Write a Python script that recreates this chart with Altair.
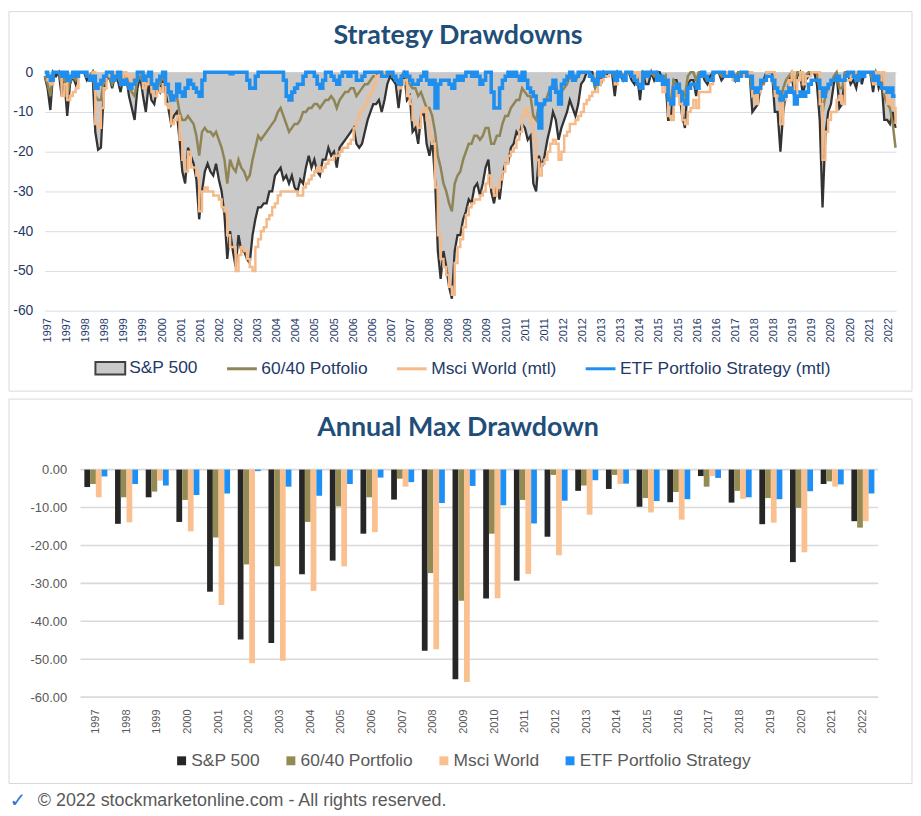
import json
import altair as alt
import pandas as pd

# ---------------- text ----------------
TITLE_TOP = "Strategy Drawdowns"
TITLE_BOTTOM = "Annual Max Drawdown"
FOOTER = "\u00a9 2022 stockmarketonline.com - All rights reserved."
ICON = "\u2713"

LINE_SERIES = ["S&P 500", "60/40 Potfolio", "Msci World (mtl)", "ETF Portfolio Strategy (mtl)"]
BAR_SERIES = ["S&P 500", "60/40 Portfolio", "Msci World", "ETF Portfolio Strategy"]

# ---------------- top chart: monthly drawdowns, Feb 1997 .. May 2022 ----------------
START_YEAR = 1997
START_MONTH = 2

SP500 = [
    -1, -4, -9.5, 0, -1, 0, -6, -2, -11, -3, -1,
    -3, 0, 0, 0, -2, -1, 0, -15, -19.5, -19, -5, -2,
    -1, -4, -1, -2, -5, -1, -1, -6, -9, -12, -4, -1,
    -6, -10, -3, -7, -8, -4, -5, -1, -5, -9, -13, -11,
    -10, -17, -25, -28, -19, -21, -23, -27, -37, -30, -25, -23,
    -25, -26, -23, -27, -30, -36, -47, -40, -45, -49, -41, -45,
    -45, -47, -48, -41, -37, -34, -34, -33, -33, -30, -30, -26,
    -25, -24, -27, -26, -28, -26, -29, -30, -27, -28, -24, -21,
    -24, -22, -25, -26, -22, -22, -19, -21, -20, -24, -19, -18,
    -17, -16, -15, -14, -18, -19, -18, -15, -12, -10, -8, -8,
    -7, -10, -7, -3, -1, -2, -3, -9, -3, 0, -7, -6,
    -15, -14, -18, -11, -10, -18, -21, -17, -27, -45, -52, -45,
    -49, -54, -57, -45, -41, -41, -37, -35, -32, -33, -29, -28,
    -31, -28, -24, -22, -30, -33, -29, -32, -26, -23, -23, -19,
    -18, -15, -16, -13, -14, -17, -16, -28, -30, -21, -24, -21,
    -17, -14, -10, -12, -17, -14, -12, -10, -7, -9, -11, -8,
    -3, -2, 0, 0, 0, -4, 0, -3, 0, -1, 0, 0,
    -6, 0, -1, -2, 0, 0, -2, -3, -1, -7, 0, -3,
    -3, 0, -2, 0, 0, -2, -1, -12, -12, -2, -2, -5,
    -11, -14, -3, -2, -2, -6, 0, 0, -2, -3, -1, 0,
    0, 0, -2, -1, 0, 0, 0, -2, 0, 0, 0, 0,
    0, -10, -9, -8, -3, -2, 0, 0, 0, -10, -10, -20,
    -10, -5, -3, 0, -7, -1, 0, -6, -2, -1, 0, 0,
    -3, -12, -34, -16, -10, -8, -3, 0, -9, -8, 0, 0,
    -3, -2, -4, 0, -3, 0, 0, 0, -5, 0, -4, -2,
    -12, -12, -13, -10, -14,
]

SIXTY_FORTY = [
    -1, -3, -6, 0, 0, 0, -3, -1, -6, -2, -1,
    -2, 0, 0, 0, -1, -1, 0, -6, -7, -7, -2, -1,
    -1, -3, -1, -1, -3, -1, -1, -3, -5, -6, -2, -1,
    -3, -4, -2, -3, -4, -3, -3, -1, -3, -5, -7, -6,
    -6, -10, -12, -12, -11, -12, -13, -16, -21, -15, -14, -15,
    -15, -16, -15, -17, -19, -22, -28, -22, -24, -25, -22, -24,
    -25, -27, -26, -22, -19, -16, -17, -16, -15, -14, -13, -12,
    -10, -9, -11, -13, -15, -14, -13, -13, -12, -10, -10, -9,
    -9, -8, -8, -9, -8, -7, -7, -6, -7, -9, -7, -6,
    -5, -5, -4, -4, -6, -5, -4, -3, -3, -2, -1, -1,
    0, -1, -1, 0, 0, -1, -1, -3, -1, 0, -2, -3,
    -4, -4, -6, -5, -7, -9, -9, -11, -15, -21, -24, -28,
    -30, -33, -35, -28, -26, -25, -22, -20, -18, -18, -16, -16,
    -17, -16, -14, -14, -18, -18, -16, -16, -13, -11, -11, -9,
    -8, -7, -7, -4, -5, -6, -6, -11, -12, -8, -9, -8,
    -6, -4, -3, -3, -6, -5, -4, -3, -1, -2, -2, -1,
    0, 0, 0, 0, -1, -4, -2, -3, -1, 0, 0, 0,
    -2, 0, 0, -1, 0, 0, -1, -1, -2, -3, 0, -1,
    -1, 0, -1, 0, -1, -2, -1, -6, -7, -2, -3, -4,
    -5, -6, -1, 0, 0, -2, 0, 0, -1, -2, -2, -1,
    0, 0, -1, 0, 0, 0, 0, -1, 0, 0, 0, 0,
    0, -6, -5, -5, -3, -3, -1, -1, -1, -5, -5, -8,
    -4, -2, -1, 0, -3, 0, 0, -2, -1, 0, 0, 0,
    0, -5, -10, -6, -4, -3, -1, 0, -4, -4, 0, 0,
    -1, -1, -1, 0, -1, 0, 0, 0, -3, 0, -2, -1,
    -6, -8, -9, -13, -19,
]

MSCI = [
    0, -2, -3, 0, 0, 0, -6, -3, -7, -6, -5,
    -4, 0, 0, 0, -1, -1, 0, -13, -14, -9, -4, -1,
    0, -2, 0, 0, -3, 0, -1, -1, -2, -1, 0, 0,
    -4, -3, -1, -5, -6, -4, -5, -3, -8, -9, -13, -12,
    -11, -17, -22, -25, -20, -24, -24, -26, -35, -30, -29, -30,
    -30, -31, -31, -32, -34, -35, -41, -44, -44, -50, -46, -44,
    -45, -47, -49, -50, -44, -42, -40, -39, -37, -36, -34, -33,
    -31, -30, -30, -30, -30, -30, -30, -31, -31, -29, -28, -27,
    -26, -25, -24, -25, -24, -23, -22, -22, -21, -21, -20, -19,
    -19, -18, -17, -14, -12, -10, -9, -8, -6, -5, -3, -1,
    0, -1, 0, 0, 0, -1, -2, -4, -3, -2, -6, -8,
    -12, -13, -14, -10, -9, -12, -16, -18, -29, -41, -47, -49,
    -51, -54, -56, -48, -44, -42, -39, -36, -34, -33, -32, -32,
    -31, -30, -28, -26, -29, -31, -29, -27, -25, -23, -21, -20,
    -19, -17, -15, -11, -9, -11, -13, -17, -22, -26, -23, -22,
    -20, -18, -17, -18, -22, -20, -16, -15, -13, -13, -12, -11,
    -10, -8, -7, -6, -5, -5, -3, -2, -1, -1, 0, 0,
    -3, 0, -1, -1, 0, 0, 0, -2, 0, -3, 0, 0,
    0, 0, 0, -2, -1, -5, -3, -11, -12, -6, -4, -8,
    -12, -13, -10, -9, -7, -9, -5, -5, -5, -5, -3, 0,
    0, 0, 0, -1, 0, -1, -2, -2, -1, 0, -1, -1,
    0, -6, -8, -5, -2, -2, 0, 0, 0, -6, -6, -13,
    -7, -4, -2, 0, -5, -2, 0, -3, -1, -1, 0, 0,
    0, -8, -22, -15, -12, -10, -10, -7, -6, -8, -2, -2,
    -1, 0, 0, 0, -1, 0, 0, 0, -3, 0, -2, 0,
    -5, -8, -7, -9, -13,
]

ETF = [
    0, -1, -2, 0, 0, 0, -1, 0, -2, -1, 0,
    -1, 0, 0, 0, -1, -2, -1, -4, -3, -2, -1, 0,
    0, -2, -1, 0, -3, -2, -3, -4, -3, -2, 0, 0,
    -2, -1, 0, -3, -4, -2, -1, 0, -3, -5, -7, -6,
    -3, -5, -6, -4, -2, -3, -4, -5, -6, -2, 0, 0,
    0, 0, 0, 0, 0, 0, 0, -0.4, 0, 0, 0, 0,
    0, -2, -4, -4, -1, 0, 0, 0, 0, 0, 0, 0,
    0, 0, -2, -6, -7, -5, -4, -3, -3, -1, 0, 0,
    0, -1, -3, -4, -2, 0, 0, -1, -2, -3, -1, 0,
    0, -1, 0, 0, -2, -2, -1, 0, 0, 0, 0, 0,
    0, -1, -1, 0, 0, -1, -2, -3, -1, 0, -1, -2,
    -3, -3, -2, -1, 0, -2, -3, -2, -9, -3, -2, -2,
    -2, -3, -4, -2, -1, -2, -1, 0, 0, -1, 0, -1,
    -3, -2, 0, 0, -5, -9, -9, -4, -2, -1, 0, -1,
    0, -1, -2, 0, -2, -4, -5, -6, -8, -14, -8, -7,
    -7, -4, -2, -5, -8, -3, -2, -1, 0, -2, -1, 0,
    0, 0, 0, -1, -2, -3, 0, -1, 0, 0, 0, 0,
    -2, 0, -1, -2, 0, 0, -1, -2, -3, -4, 0, -1,
    0, 0, 0, -2, -1, -3, -2, -7, -8, -4, -3, -5,
    -7, -8, -4, -3, -3, -4, -1, 0, -1, -2, -2, 0,
    0, 0, 0, -1, -1, 0, -1, -2, -1, 0, 0, -1,
    -1, -4, -5, -4, -2, -2, -1, -1, -2, -4, -5, -7,
    -6, -5, -4, -5, -8, -6, -5, -6, -5, -3, -2, -2,
    -2, -4, -6, -4, -3, -2, -2, -1, -2, -2, -1, 0,
    0, -1, -2, 0, -1, 0, 0, 0, -2, -1, -3, -4,
    -4, -5, -4, -6, -6,
]

X_LABELS = ["1997", "1997", "1998", "1998", "1999", "1999", "2000", "2001", "2001",
            "2002", "2002", "2003", "2004", "2004", "2005", "2005", "2006", "2006",
            "2007", "2007", "2008", "2008", "2009", "2009", "2010", "2011", "2011",
            "2012", "2012", "2013", "2013", "2014", "2015", "2015", "2016", "2016",
            "2017", "2018", "2018", "2019", "2019", "2020", "2020", "2021", "2022"]
TICK_FIRST = 1997.163
TICK_STEP = 0.5672
TOP_Y_TICKS = [0, -10, -20, -30, -40, -50, -60]

# ---------------- bottom chart: annual max drawdown ----------------
YEARS = [str(y) for y in range(1997, 2023)]
BAR_SP = [-4.6, -14.3, -7.3, -13.8, -32.2, -44.8, -45.7, -27.6, -24.0, -16.9, -7.9, -47.8, -55.3,
          -34.0, -29.3, -17.7, -5.6, -5.1, -9.8, -8.6, -1.7, -8.7, -14.4, -24.4, -3.8, -13.6]
BAR_6040 = [-3.8, -7.3, -5.8, -8.0, -17.9, -25.0, -25.5, -13.8, -9.7, -7.3, -2.4, -27.3, -34.6,
            -16.9, -8.0, -1.4, -4.2, -1.4, -7.5, -5.9, -4.5, -5.6, -7.5, -10.1, -3.1, -15.3]
BAR_MSCI = [-7.3, -13.9, -2.9, -16.3, -35.7, -51.1, -50.4, -32.0, -25.5, -16.5, -4.5, -47.4, -56.0,
            -33.9, -27.5, -22.6, -11.9, -3.8, -11.3, -13.2, -1.7, -7.7, -14.0, -21.8, -4.5, -13.6]
BAR_ETF = [-1.8, -3.8, -4.2, -6.7, -6.3, -0.4, -4.5, -6.9, -3.8, -2.1, -3.3, -8.8, -4.3,
           -9.4, -14.2, -8.2, -2.8, -3.7, -8.3, -7.8, -2.2, -7.3, -7.8, -5.7, -3.9, -6.3]
BOT_Y_TICKS = [0, -10, -20, -30, -40, -50, -60]

# ---------------- styles ----------------
AREA_FILL = "#C9C9C9"
SP_LINE = "#333333"
LINE_COLORS = ["#8F8455", "#F5BA8A", "#1E8FEF"]
BAR_COLORS = ["#262626", "#948A54", "#FAC090", "#1E90F5"]
NAVY = "#1F3A68"
TITLE_COLOR = "#1F4E79"
GREY_TXT = "#595959"
BORDER = "#D9D9D9"
FONT = "Liberation Sans"
TFONT = "Lato"

n = len(SP500)
assert len(SIXTY_FORTY) == n and len(MSCI) == n and len(ETF) == n, (len(SP500), len(SIXTY_FORTY), len(MSCI), len(ETF))
t = [START_YEAR + (START_MONTH - 1 + i) / 12 for i in range(n)]

rows = []
for name, vals in zip(LINE_SERIES, [SP500, SIXTY_FORTY, MSCI, ETF]):
    for ti, v in zip(t, vals):
        rows.append({"t": ti, "series": name, "value": v})
top_df = pd.DataFrame(rows)

brows = []
for name, vals in zip(BAR_SERIES, [BAR_SP, BAR_6040, BAR_MSCI, BAR_ETF]):
    for y, v in zip(YEARS, vals):
        brows.append({"year": y, "name": name, "value": v})
bar_df = pd.DataFrame(brows)

one = pd.DataFrame({"k": [0]})

# ================= TOP CHART =================
W1, H1 = 857, 240
tick_values = [TICK_FIRST + i * TICK_STEP for i in range(len(X_LABELS))]
label_expr = "%s[round((datum.value - %.4f) / %.4f)]" % (json.dumps(X_LABELS), TICK_FIRST, TICK_STEP)

x_top = alt.X("t:Q",
              scale=alt.Scale(domain=[t[0], t[-1] + 0.017], nice=False, zero=False),
              axis=alt.Axis(values=tick_values, labelExpr=label_expr, labelAngle=-90,
                            labelFont=FONT, labelFontSize=11, labelColor=NAVY,
                            ticks=False, tickSize=0, domain=False, grid=False,
                            labelPadding=7, title=None, labelOverlap=False))
y_top = alt.Y("value:Q",
              scale=alt.Scale(domain=[-60, 0], nice=False),
              axis=alt.Axis(values=TOP_Y_TICKS,
                            labelExpr="(datum.value < 0 ? '-' : '') + format(abs(datum.value), 'd')",
                            labelFont=FONT, labelFontSize=14, labelColor=NAVY,
                            ticks=False, tickSize=0, domain=False, grid=True,
                            gridColor="#D5DDE7", gridWidth=1, labelPadding=12, title=None))

base_top = alt.Chart(top_df)

fill_legend = alt.Legend(orient="none", legendX=50, legendY=282, direction="horizontal", title=None,
                         symbolType="M-1,-0.42H1V0.42H-1Z", symbolSize=900,
                         symbolStrokeColor="#404040", symbolStrokeWidth=2,
                         labelFont=FONT, labelFontSize=17.5, labelColor=NAVY, labelOffset=3,
                         labelLimit=0, padding=0)
line_legend = alt.Legend(orient="none", legendX=182, legendY=282, direction="horizontal", title=None,
                         symbolType="stroke", symbolSize=900, symbolStrokeWidth=3,
                         labelFont=FONT, labelFontSize=17.5, labelColor=NAVY, labelOffset=3,
                         labelLimit=0, columnPadding=22, padding=0)
color_top = alt.Color("series:N", scale=alt.Scale(domain=LINE_SERIES[1:], range=LINE_COLORS),
                      legend=line_legend)

border_top = alt.Chart(one).mark_rect(fillOpacity=0, stroke=BORDER, strokeWidth=1).encode(
    x=alt.value(-36), x2=alt.value(873), y=alt.value(-61), y2=alt.value(321))

area = base_top.transform_filter(alt.datum.series == LINE_SERIES[0]).mark_area(opacity=1).encode(
    x=x_top, y=y_top,
    fill=alt.Fill("series:N", scale=alt.Scale(domain=[LINE_SERIES[0]], range=[AREA_FILL]),
                  legend=fill_legend))
sp_line = base_top.transform_filter(alt.datum.series == LINE_SERIES[0]).mark_line(
    color=SP_LINE, strokeWidth=2.3).encode(x=x_top, y=y_top)
l6040 = base_top.transform_filter(alt.datum.series == LINE_SERIES[1]).mark_line(
    strokeWidth=2.5).encode(x=x_top, y=y_top, color=color_top)
lmsci = base_top.transform_filter(alt.datum.series == LINE_SERIES[2]).mark_line(
    strokeWidth=2.5, interpolate="step-after").encode(x=x_top, y=y_top, color=color_top)
letf = base_top.transform_filter(alt.datum.series == LINE_SERIES[3]).mark_line(
    strokeWidth=3.6, interpolate="step-after").encode(x=x_top, y=y_top, color=color_top)

title_top = alt.Chart(pd.DataFrame({"txt": [TITLE_TOP]})).mark_text(
    font=TFONT, fontSize=27, fontWeight="bold", color=TITLE_COLOR, align="center", baseline="middle"
).encode(text="txt:N", x=alt.value(416), y=alt.value(-36))

top = alt.layer(border_top, area, sp_line, l6040, lmsci, letf, title_top).properties(
    width=W1, height=H1)

# ================= BOTTOM CHART =================
W2, H2 = 839, 229

y_bot = alt.Y("value:Q",
              scale=alt.Scale(domain=[-60, 0], nice=False),
              axis=alt.Axis(values=BOT_Y_TICKS,
                            labelExpr="(datum.value < 0 ? '-' : '') + format(abs(datum.value), '.2f')",
                            labelFont=FONT, labelFontSize=13, labelColor=GREY_TXT,
                            ticks=False, tickSize=0, domain=False, grid=False,
                            offset=-36, labelPadding=14, title=None))

grid_bot = alt.Chart(pd.DataFrame({"value": BOT_Y_TICKS})).mark_rule(
    color="#D9D9D9", strokeWidth=1.6).encode(y=y_bot, x=alt.value(36), x2=alt.value(839))

bar_legend = alt.Legend(orient="none", legendX=129, legendY=284, direction="horizontal", title=None,
                        symbolType="square", symbolSize=81, symbolStrokeWidth=0,
                        labelFont=FONT, labelFontSize=17.5, labelColor=GREY_TXT, labelOffset=1,
                        labelLimit=0, columnPadding=22, padding=0)

bars = alt.Chart(bar_df).mark_bar().encode(
    x=alt.X("year:O", scale=alt.Scale(range=[36, 839], paddingInner=0.25, paddingOuter=0.125),
            axis=alt.Axis(labelAngle=-90, labelFont=FONT, labelFontSize=11, labelColor=GREY_TXT,
                          ticks=False, tickSize=0, domain=False, grid=False, labelPadding=12,
                          title=None)),
    xOffset=alt.XOffset("name:N", sort=BAR_SERIES, scale=alt.Scale(paddingInner=0, paddingOuter=0)),
    y=y_bot,
    color=alt.Color("name:N", scale=alt.Scale(domain=BAR_SERIES, range=BAR_COLORS), legend=bar_legend),
)

border_bot = alt.Chart(one).mark_rect(fillOpacity=0, stroke=BORDER, strokeWidth=1).encode(
    x=alt.value(-36), x2=alt.value(873), y=alt.value(-71), y2=alt.value(316))

title_bot = alt.Chart(pd.DataFrame({"txt": [TITLE_BOTTOM]})).mark_text(
    font=TFONT, fontSize=27, fontWeight="bold", color=TITLE_COLOR, align="center", baseline="middle"
).encode(text="txt:N", x=alt.value(416), y=alt.value(-42))

footer = alt.Chart(pd.DataFrame({"txt": [FOOTER]})).mark_text(
    font=FONT, fontSize=18, color=GREY_TXT, align="left", baseline="middle"
).encode(text="txt:N", x=alt.value(-7), y=alt.value(334))

icon = alt.Chart(pd.DataFrame({"txt": [ICON]})).mark_text(
    font="DejaVu Sans", fontSize=20, color="#2E75D6", align="center", baseline="middle"
).encode(text="txt:N", x=alt.value(-27), y=alt.value(334))

bottom = alt.layer(border_bot, grid_bot, bars, title_bot, footer, icon).properties(width=W2, height=H2)

chart = (alt.vconcat(top, bottom, spacing=6)
         .resolve_scale(color="independent", fill="independent", x="independent", y="independent")
         .resolve_legend(color="independent", fill="independent")
         .properties(padding=0)
         .configure_view(stroke=None))

chart.save("out.html", embed_options={"renderer": "svg", "actions": False})
